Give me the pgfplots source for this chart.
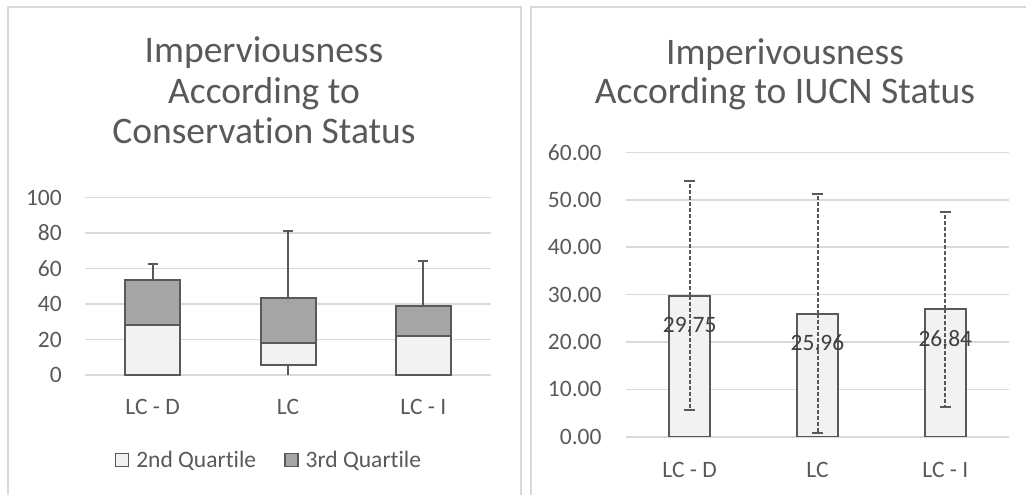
\documentclass[border=0pt]{standalone}
\usepackage{fontspec}
\setmainfont{Carlito}[Ligatures={NoCommon,NoRequired,NoContextual}]
\usepackage{pgfplots}
\pgfplotsset{compat=1.18}

\definecolor{txt}{HTML}{595959}
\definecolor{lbl}{HTML}{404040}
\definecolor{gridc}{HTML}{D9D9D9}
\definecolor{light}{HTML}{F2F2F2}
\definecolor{dark}{HTML}{A5A5A5}
\definecolor{edge}{HTML}{595959}

\newcommand{\tickfont}{\fontsize{23.5}{28}\selectfont}
\newcommand{\titlefont}{\fontsize{37.5}{40}\selectfont}

\pgfplotsset{
  excel/.style={
    scale only axis,
    anchor=south west,
    xmin=-0.5, xmax=2.5,
    xtick={0,1,2},
    xticklabels={LC - D, LC, LC - I},
    axis line style={draw=none},
    major tick length=0pt,
    ymajorgrids,
    grid style={gridc, line width=1.6pt},
    tick label style={font=\tickfont, text=txt},
    /pgf/number format/assume math mode=true,
  },
  sq/.style={legend image code/.code={\draw[##1, line width=1.5pt] (0pt,-6.5pt) rectangle (13pt,6.5pt);}},
}

\begin{document}
\begin{tikzpicture}[x=1pt,y=1pt]
\path[use as bounding box] (0,0) rectangle (1026,-495);
\begin{scope}
  \clip (0,0) rectangle (1026,-495);
  \draw[gridc, line width=2pt] (8,-600) -- (8,-7) -- (520.7,-7) -- (520.7,-600);
  \draw[gridc, line width=2pt] (531,-600) -- (531,-7) -- (1100,-7);
\end{scope}

% titles
\node[anchor=base, font=\titlefont, text=txt] at (264,-63) {Imperviousness};
\node[anchor=base, font=\titlefont, text=txt] at (264,-103) {According to};
\node[anchor=base, font=\titlefont, text=txt] at (264,-143) {Conservation Status};
\node[anchor=base, font=\titlefont, text=txt] at (785,-65) {Imperivousness};
\node[anchor=base, font=\titlefont, text=txt] at (785,-103) {According to IUCN Status};

% left: quartile boxes
\begin{axis}[excel,
  at={(85pt,-375pt)},
  width=406pt, height=177.5pt,
  ybar stacked, bar width=55pt,
  ymin=0, ymax=100, ytick={0,20,...,100},
  xticklabel style={anchor=north, inner sep=0pt, yshift=-24pt},
  yticklabel style={anchor=east, inner sep=0pt, xshift=-23pt},
  legend style={at={(0.453,-0.479)}, anchor=center, draw=none, fill=none,
    font=\tickfont, text=txt, legend columns=2,
    /tikz/every odd column/.append style={column sep=5pt},
    /tikz/every even column/.append style={column sep=26pt}},
  legend cell align=left,
]
\addplot[draw=none, fill=none, forget plot,
  error bars/.cd, y dir=minus, y explicit, error mark=none,
  error bar style={draw=edge, line width=2pt}]
  coordinates {(0,0) (1,5.6) +- (0,5.6) (2,0)};
\addplot[sq, fill=light, draw=edge, line width=2pt]
  coordinates {(0,28.1) (1,12.4) (2,22.1)};
\addplot[sq, fill=dark, draw=edge, line width=2pt,
  error bars/.cd, y dir=plus, y explicit,
  error bar style={draw=edge, line width=2pt},
  error mark options={rotate=90, mark size=5pt, line width=2pt, draw=edge}]
  coordinates {(0,25.7) +- (0,8.7) (1,25.3) +- (0,37.7) (2,16.7) +- (0,25.5)};
\legend{2nd Quartile, 3rd Quartile}
\end{axis}

% right: means with error bars
\begin{axis}[excel,
  at={(625.7pt,-436.7pt)},
  width=383.6pt, height=284.4pt,
  ybar, bar width=41pt,
  ymin=0, ymax=60, ytick={0,10,...,60},
  yticklabel style={anchor=east, inner sep=0pt, xshift=-24pt,
    /pgf/number format/.cd, fixed, fixed zerofill, precision=2},
  xticklabel style={anchor=north, inner sep=0pt, yshift=-25.3pt},
  nodes near coords={\pgfmathprintnumber[fixed,fixed zerofill,precision=2]{\pgfplotspointmeta}},
  every node near coord/.append style={anchor=center, yshift=-29pt,
    font=\tickfont, text=lbl, inner sep=0pt},
]
\addplot[fill=light, draw=edge, line width=2pt,
  error bars/.cd, y dir=both, y explicit,
  error bar style={draw=edge, line width=2pt, dash pattern=on 4pt off 2pt},
  error mark options={rotate=90, mark size=5.5pt, line width=2pt, draw=edge, solid}]
  coordinates {(0,29.75) +- (0,24.2) (1,25.96) +- (0,25.25) (2,26.84) +- (0,20.5)};
\end{axis}
\end{tikzpicture}
\end{document}
